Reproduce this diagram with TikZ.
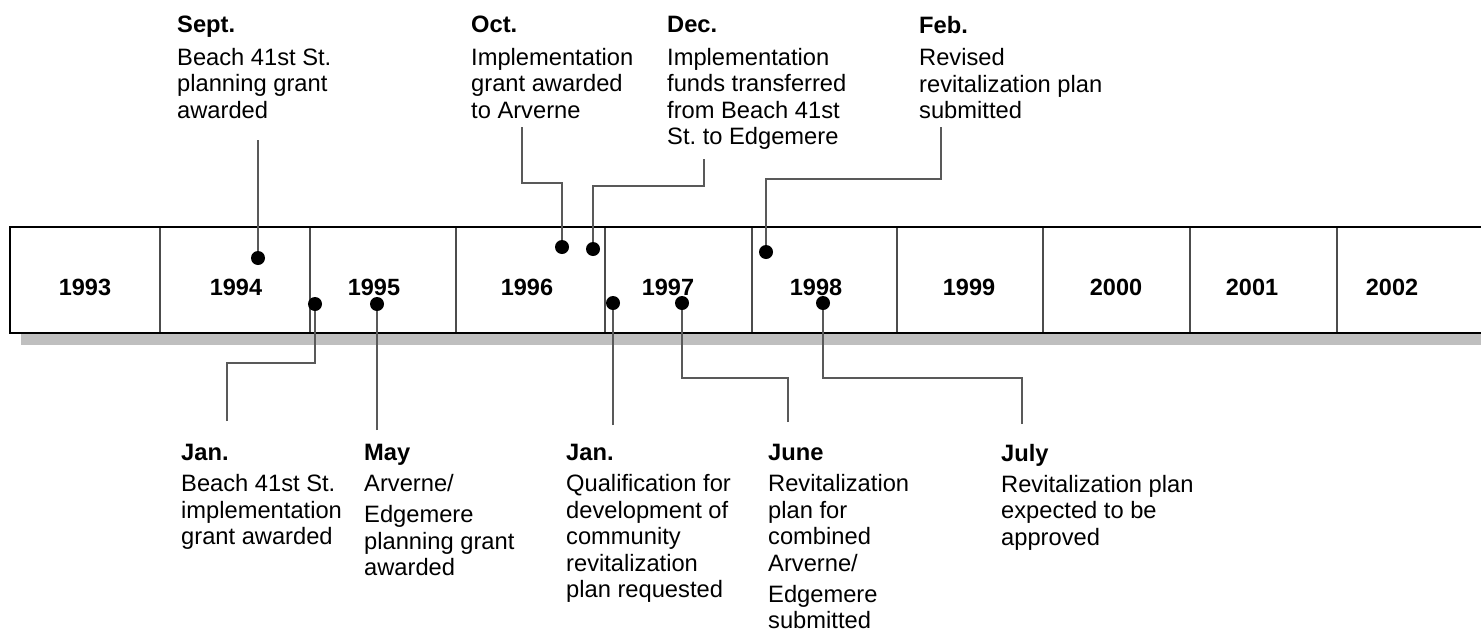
\documentclass[tikz,border=0pt]{standalone}
\usepackage{fontspec}
\setmainfont{Liberation Sans}
\frenchspacing
\begin{document}
\begin{tikzpicture}[x=1pt,y=-1pt,
  lbl/.style={anchor=north west, inner sep=0pt, align=left, font=\fontsize{23.7}{26.5}\selectfont},
  yr/.style={anchor=base, inner sep=0pt, font=\fontsize{23.5}{27}\selectfont\bfseries},
  evdot/.style={circle, fill=black, inner sep=0pt, minimum size=14pt},
  conn/.style={draw=black!65, line width=1.5pt},
  divider/.style={draw=black!70, line width=1.5pt},
  barline/.style={draw=black, line width=2pt},
  shadow/.style={fill=black!25}]
\useasboundingbox (0,0) rectangle (1481,635);
% shadow and bar
\fill[shadow] (21,239) rectangle (1485,345);
\fill[white] (10,227) rectangle (1485,333);
\draw[barline] (1485,227) -- (10,227) -- (10,333) -- (1485,333);
\foreach \x in {160,310,456,605,752,897,1043,1190,1337}
  \draw[divider] (\x,228) -- (\x,332);
% years
\node[yr] (y1993) at (85,295) {1993};
\node[yr] (y1994) at (236,295) {1994};
\node[yr] (y1995) at (374,295) {1995};
\node[yr] (y1996) at (527,295) {1996};
\node[yr] (y1997) at (668,295) {1997};
\node[yr] (y1998) at (816,295) {1998};
\node[yr] (y1999) at (969,295) {1999};
\node[yr] (y2000) at (1116,295) {2000};
\node[yr] (y2001) at (1252,295) {2001};
\node[yr] (y2002) at (1392,295) {2002};
% top labels
\node[lbl] (sept) at (177,16) {\textbf{Sept.}\\[6pt]Beach 41st St.\\planning grant\\awarded};
\node[lbl] (oct) at (471,16) {\textbf{Oct.}\\[6pt]Implementation\\grant awarded\\to Arverne};
\node[lbl] (dec) at (667,16) {\textbf{Dec.}\\[6pt]Implementation\\funds transferred\\from Beach 41st\\St. to Edgemere};
\node[lbl] (feb) at (919,16) {\textbf{Feb.}\\[6pt]Revised\\revitalization plan\\submitted};
% bottom labels
\node[lbl] (jan95) at (181,444) {\textbf{Jan.}\\[4.5pt]Beach 41st St.\\implementation\\grant awarded};
\node[lbl] (may) at (364,444) {\textbf{May}\\[4.5pt]Arverne/\\[4.5pt]Edgemere\\planning grant\\awarded};
\node[lbl] (jan97) at (566,444) {\textbf{Jan.}\\[4.5pt]Qualification for\\development of\\community\\revitalization\\plan requested};
\node[lbl] (june) at (768,444) {\textbf{June}\\[4.5pt]Revitalization\\plan for\\combined\\Arverne/\\[4.5pt]Edgemere\\submitted};
\node[lbl] (july) at (1001,444) {\textbf{July}\\[4.5pt]Revitalization plan\\expected to be\\approved};
% dots
\node[evdot] (dsept) at (258,258) {};
\node[evdot] (doct) at (562,247) {};
\node[evdot] (ddec) at (593,249) {};
\node[evdot] (dfeb) at (766,252) {};
\node[evdot] (djan95) at (315,304) {};
\node[evdot] (dmay) at (377,304) {};
\node[evdot] (djan97) at (613,303) {};
\node[evdot] (djune) at (682,303) {};
\node[evdot] (djuly) at (823,303) {};
% connector ends
\coordinate (esept) at (258,140);
\coordinate (eoct) at (522,127);
\coordinate (edec) at (704,159);
\coordinate (efeb) at (941,127);
\coordinate (ejan95) at (227,421);
\coordinate (emay) at (377,430);
\coordinate (ejan97) at (613,425);
\coordinate (ejune) at (788,422);
\coordinate (ejuly) at (1022,424);
% connectors
\draw[conn] (esept) -- (dsept);
\draw[conn] (eoct) -- (522,183) -| (doct);
\draw[conn] (edec) -- (704,186) -| (ddec);
\draw[conn] (efeb) -- (941,179) -| (dfeb);
\draw[conn] (ejan95) -- (227,363) -| (djan95);
\draw[conn] (emay) -- (dmay);
\draw[conn] (ejan97) -- (djan97);
\draw[conn] (ejune) -- (788,378) -| (djune);
\draw[conn] (ejuly) -- (1022,378) -| (djuly);
\end{tikzpicture}
\end{document}
